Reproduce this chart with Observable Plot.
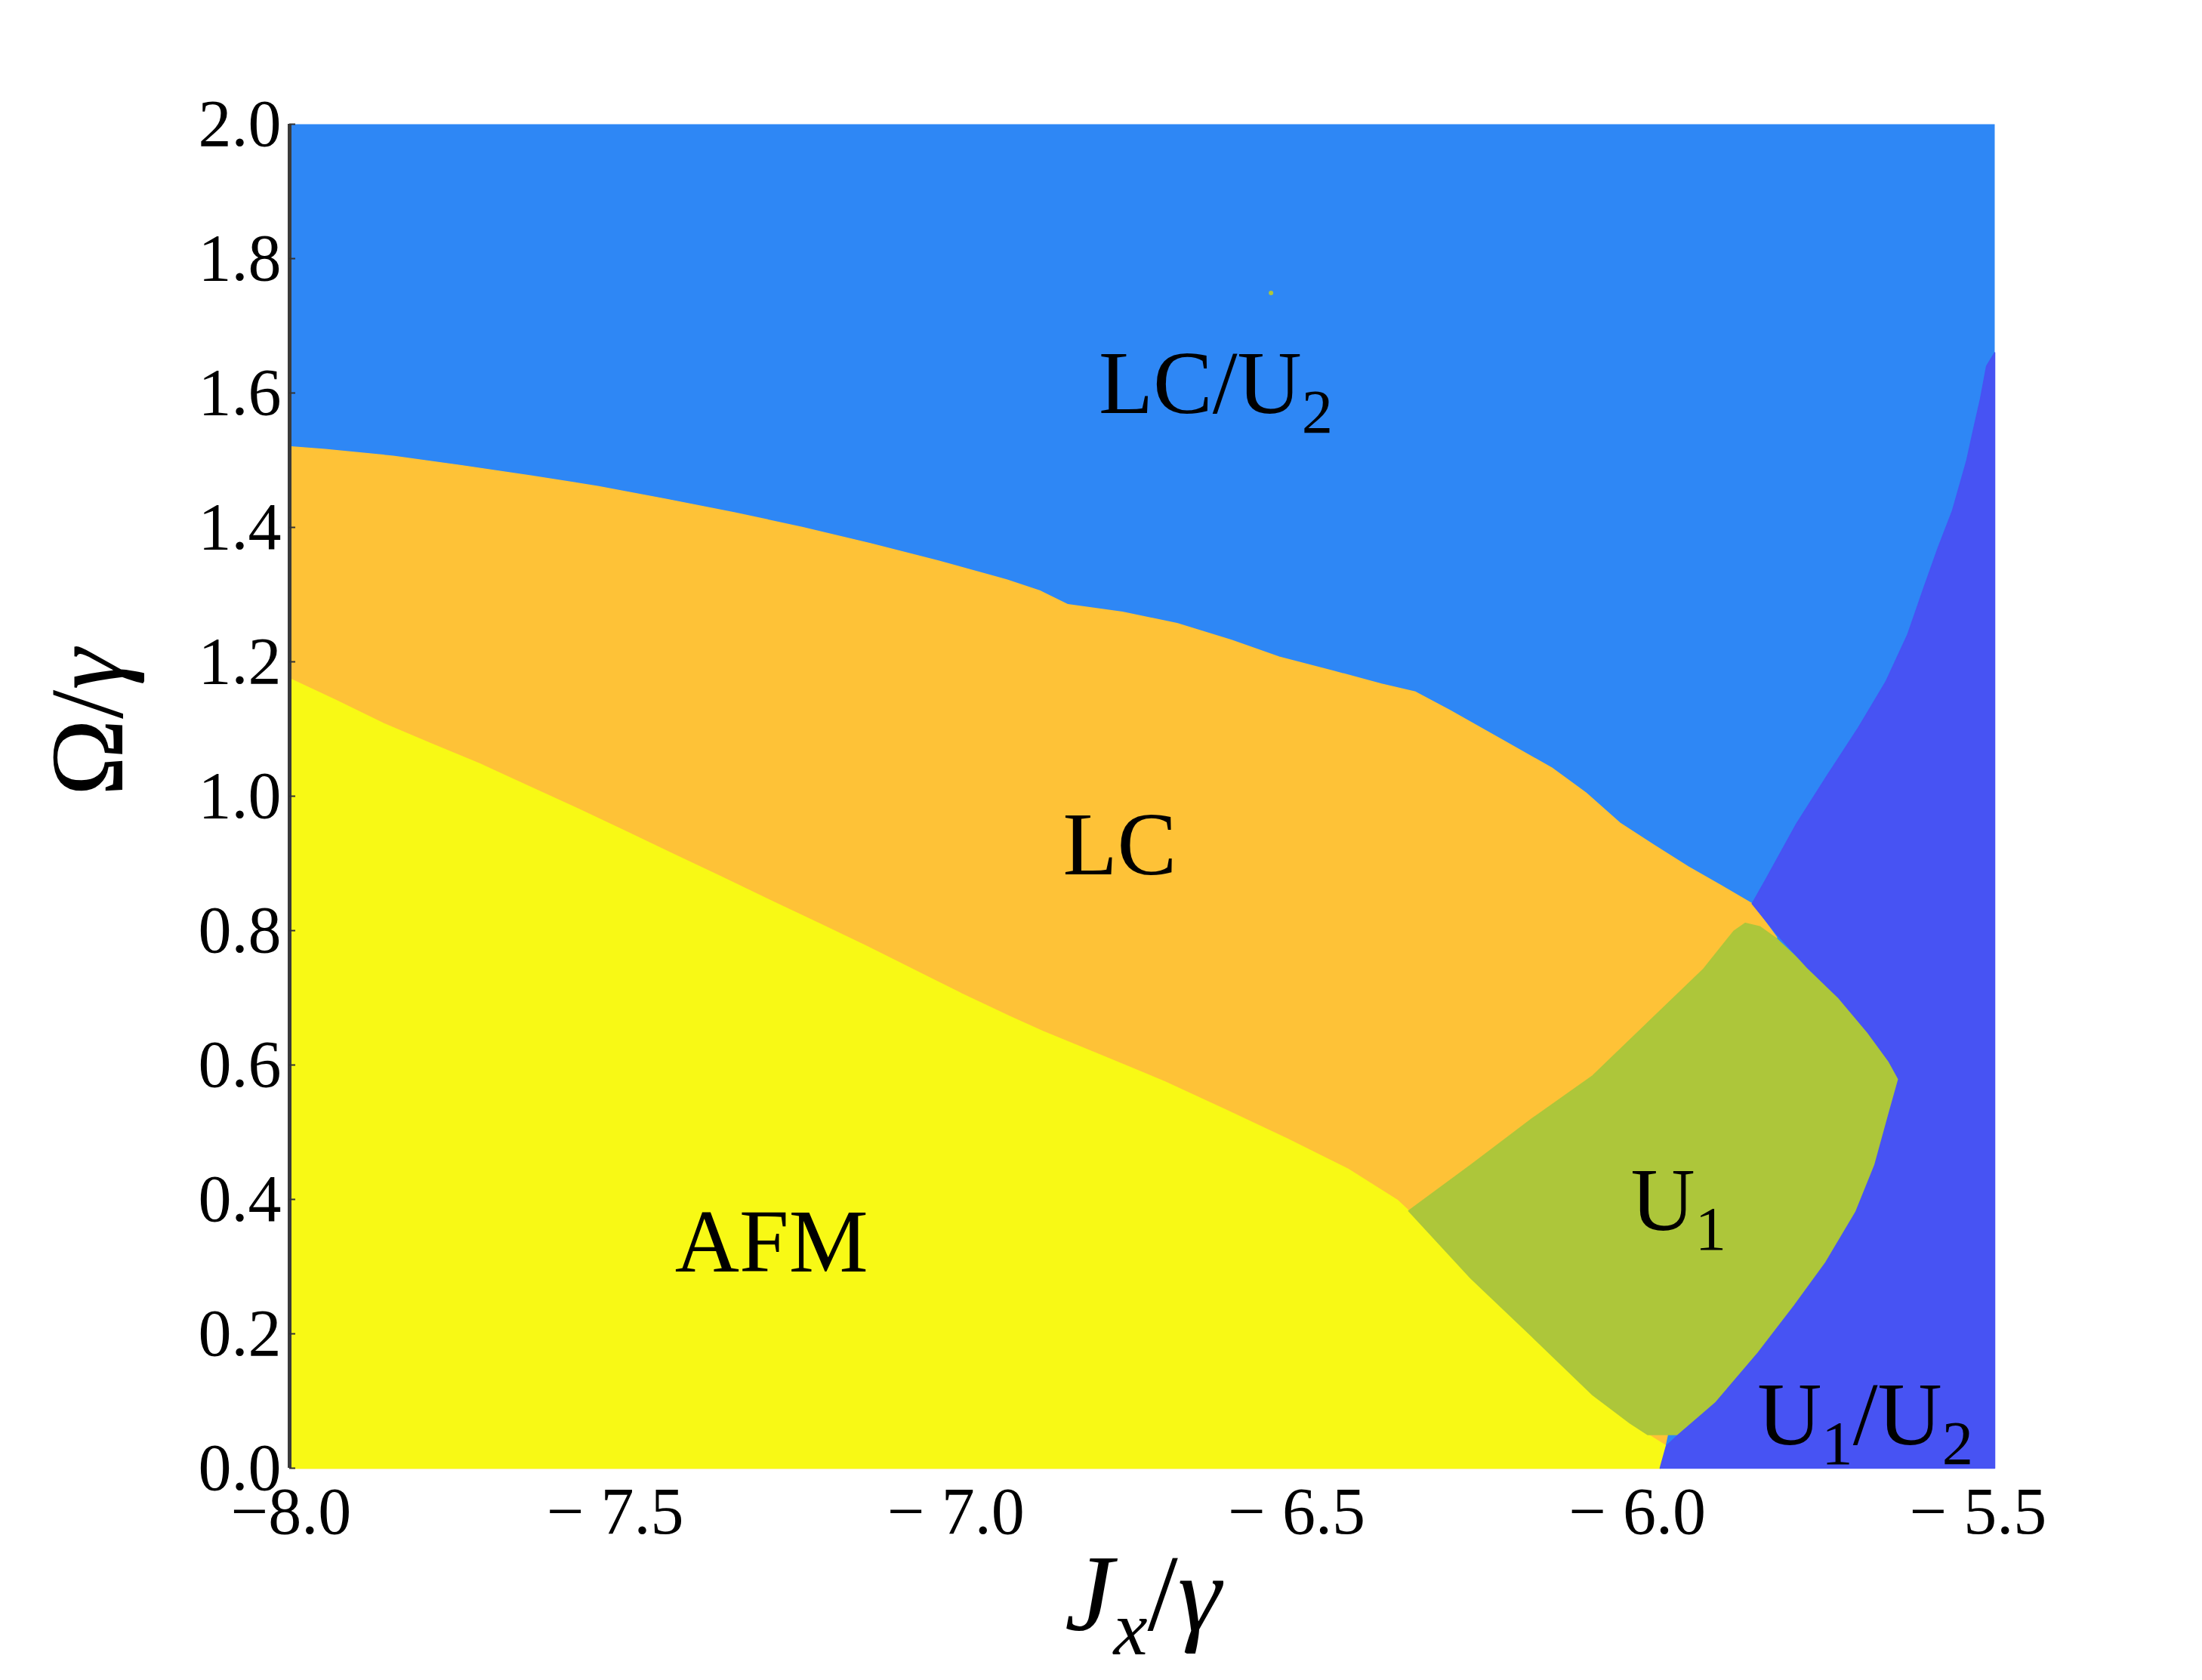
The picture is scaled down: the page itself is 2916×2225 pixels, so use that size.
<!DOCTYPE html>
<html>
<head>
<meta charset="utf-8">
<script src="https://cdn.jsdelivr.net/npm/d3@7"></script>
<script src="https://cdn.jsdelivr.net/npm/@observablehq/plot@0.6"></script>
<style>
  html, body { margin: 0; padding: 0; background: #ffffff; }
  #chart svg { display: block; }
</style>
</head>
<body>
<div id="chart"></div>
<script>
// ---- axes ----
const xDomain = [-8, -5.5];
const yDomain = [0, 2];
const xTicks = [-8, -7.5, -7, -6.5, -6, -5.5];
const xTickLabels = ["−8.0", "− 7.5", "− 7.0", "− 6.5", "− 6.0", "− 5.5"];
const yTicks = [0, 0.2, 0.4, 0.6, 0.8, 1.0, 1.2, 1.4, 1.6, 1.8, 2.0];
const xTitle = ["Jₓ/γ"];
const yTitle = ["Ω/γ"];

// ---- phase colours ----
const phaseNames = ["LC/U₂", "LC", "AFM", "U₁", "U₁/U₂"];
const phaseColors = ["#2e87f5", "#fec237", "#f8f915", "#adc63a", "#4753f3"];

// ---- label positions (Jx/γ, Ω/γ) ----
const labelX = [-6.643, -6.784, -7.295, -5.964, -5.690];
const labelY = [1.613, 0.926, 0.335, 0.397, 0.078];

// ---- boundaries: [Jx/γ, Ω/γ] ----
// LC (orange) upper boundary, left to right, ending at triple point
const lcUpper = [
  [-8.000, 1.520], [-7.950, 1.516], [-7.850, 1.506], [-7.750, 1.492], [-7.650, 1.477],
  [-7.550, 1.461], [-7.450, 1.442], [-7.350, 1.422], [-7.250, 1.400], [-7.150, 1.376],
  [-7.050, 1.350], [-6.950, 1.322], [-6.900, 1.305], [-6.860, 1.285], [-6.780, 1.274],
  [-6.700, 1.257], [-6.620, 1.232], [-6.550, 1.207], [-6.470, 1.186], [-6.400, 1.167],
  [-6.350, 1.155], [-6.300, 1.128], [-6.220, 1.082], [-6.150, 1.042], [-6.100, 1.005],
  [-6.050, 0.960], [-6.000, 0.927], [-5.950, 0.895], [-5.900, 0.866], [-5.856, 0.840]
];
const lcClose = [[-5.820, 0.790], [-5.991, 0.000], [-8.000, 0.000]];

// AFM (yellow) upper boundary, left to right, ending at U1 left vertex
const afmUpper = [
  [-8.000, 1.174], [-7.935, 1.143], [-7.864, 1.108], [-7.794, 1.078], [-7.723, 1.048],
  [-7.652, 1.015], [-7.581, 0.982], [-7.510, 0.948], [-7.440, 0.914], [-7.369, 0.880],
  [-7.299, 0.846], [-7.228, 0.812], [-7.158, 0.778], [-7.087, 0.742], [-7.016, 0.706],
  [-6.945, 0.672], [-6.897, 0.650], [-6.808, 0.613], [-6.718, 0.575], [-6.628, 0.533],
  [-6.538, 0.490], [-6.449, 0.445], [-6.377, 0.399], [-6.360, 0.383]
];
// U1 lower-left edge (shared with AFM), from left vertex down to bottom
const u1LowerLeft = [
  [-6.360, 0.383], [-6.269, 0.283], [-6.179, 0.196], [-6.090, 0.109], [-6.035, 0.067], [-6.009, 0.050]
];
const afmClose = [[-5.982, 0.033], [-5.991, 0.000], [-8.000, 0.000]];

// U1 (green) upper-left edge, from left vertex to top vertex
const u1UpperLeft = [
  [-6.360, 0.383], [-6.269, 0.451], [-6.179, 0.520], [-6.090, 0.584], [-6.000, 0.672],
  [-5.928, 0.742], [-5.883, 0.799], [-5.866, 0.811], [-5.845, 0.806]
];
// U1 right edge (shared with U1/U2), from top down to bottom
const u1Right = [
  [-5.820, 0.788], [-5.775, 0.745], [-5.730, 0.701], [-5.686, 0.648], [-5.655, 0.605],
  [-5.641, 0.579], [-5.654, 0.532], [-5.676, 0.451], [-5.704, 0.381], [-5.748, 0.306],
  [-5.794, 0.242], [-5.847, 0.172], [-5.910, 0.097], [-5.964, 0.050]
];

// U1/U2 (indigo) boundary with LC/U2, from right edge down to triple point
const u1u2Upper = [
  [-5.500, 1.660], [-5.512, 1.640], [-5.521, 1.591], [-5.530, 1.551], [-5.541, 1.500],
  [-5.562, 1.425], [-5.583, 1.370], [-5.604, 1.310], [-5.628, 1.240], [-5.660, 1.170],
  [-5.700, 1.102], [-5.745, 1.032], [-5.792, 0.957], [-5.836, 0.876], [-5.856, 0.840],
  [-5.820, 0.795]
];
const u1u2Close = [[-5.982, 0.033], [-5.991, 0.000], [-5.500, 0.000]];

// isolated speck in LC/U2 region
const speck = [[-6.562, 1.749]];

// ---- polygons built from the arrays ----
const lcPoly = [...lcUpper, ...lcClose];
const afmPoly = [...afmUpper, ...u1LowerLeft.slice(1), ...afmClose];
const u1Poly = [...u1UpperLeft, ...u1Right, ...u1LowerLeft.slice().reverse()];
const u1u2Poly = [...u1u2Upper, ...u1Right.slice(1), ...u1u2Close];

const FONT = "'Liberation Serif', 'DejaVu Serif', serif";
const tickFont = 88, labelFont = 118, titleFont = 145, yTitleFont = 138;

const poly = (pts, color) => Plot.line(pts, {
  x: d => d[0], y: d => d[1], fill: color, stroke: color, strokeWidth: 1.5, curve: "linear-closed"
});

const regionLabels = phaseNames.map((t, i) => ({t, x: labelX[i], y: labelY[i]}));
const tickLabel = d => xTickLabels[xTicks.indexOf(d)];

const chart = Plot.plot({
  width: 2916,
  height: 2225,
  marginLeft: 385,
  marginRight: 275,
  marginTop: 164,
  marginBottom: 281,
  style: {fontFamily: FONT, fontSize: tickFont + "px", background: "#ffffff", color: "#000000"},
  x: {domain: xDomain, label: null},
  y: {domain: yDomain, label: null},
  marks: [
    Plot.frame({fill: phaseColors[0], stroke: null}),
    poly(lcPoly, phaseColors[1]),
    poly(afmPoly, phaseColors[2]),
    poly(u1Poly, phaseColors[3]),
    poly(u1u2Poly, phaseColors[4]),
    Plot.dot(speck, {x: d => d[0], y: d => d[1], r: 3, fill: phaseColors[3], stroke: null}),
    Plot.ruleX([xDomain[0]], {stroke: "#3a3a3a", strokeWidth: 5, dx: -2}),
    Plot.tickY(yTicks, {y: d => d, stroke: "#333", strokeWidth: 2, insetRight: 2248, dx: -2}),
    Plot.axisX(xTicks.slice(0, 1), {tickSize: 0, tickPadding: 24, fontSize: tickFont,
      tickFormat: tickLabel, label: null}),
    Plot.axisX(xTicks.slice(1), {tickSize: 0, tickPadding: 24, fontSize: tickFont, dx: -22,
      tickFormat: tickLabel, label: null}),
    Plot.axisY(yTicks, {tickSize: 0, tickPadding: 13, fontSize: tickFont,
      tickFormat: d3.format(".1f"), label: null}),
    Plot.text(regionLabels, {x: "x", y: "y", text: "t", fontSize: labelFont,
      textAnchor: "middle", lineAnchor: "middle", fill: "#000"}),
    Plot.text(xTitle, {text: d => d, frameAnchor: "bottom", dy: 168, fontSize: titleFont,
      lineAnchor: "middle", fill: "#000"}),
    Plot.text(yTitle, {text: d => d, frameAnchor: "left", dx: -268, rotate: -90, fontSize: yTitleFont,
      lineAnchor: "middle", fill: "#000"})
  ]
});

// ---- typeset subscripts / italics as grouped tspans ----
const SVGNS = "http://www.w3.org/2000/svg";
const subMap = {"₁": "1", "₂": "2", "ₓ": "x"};
function richify(el, fs, italics) {
  const s = el.textContent;
  const runs = [];
  for (const ch of s) {
    const sub = ch in subMap;
    const base = sub ? subMap[ch] : ch;
    const ital = italics.includes(base) || italics.includes(ch);
    const last = runs[runs.length - 1];
    if (last && last.sub === sub && last.ital === ital) last.text += base;
    else runs.push({text: base, sub, ital});
  }
  el.textContent = "";
  const shift = fs * 0.22;
  let shifted = false;
  for (const r of runs) {
    const t = document.createElementNS(SVGNS, "tspan");
    t.textContent = r.text;
    if (r.sub) {
      t.setAttribute("font-size", (fs * 0.7).toFixed(1));
      if (!shifted) { t.setAttribute("dy", shift.toFixed(1)); shifted = true; }
    } else if (shifted) {
      t.setAttribute("dy", (-shift).toFixed(1)); shifted = false;
    }
    if (r.ital) t.setAttribute("font-style", "italic");
    el.appendChild(t);
  }
}
chart.querySelectorAll("text").forEach(el => {
  const s = el.textContent;
  if (phaseNames.includes(s)) richify(el, labelFont, []);
  else if (xTitle.includes(s)) richify(el, titleFont, ["J", "x", "γ"]);
  else if (yTitle.includes(s)) richify(el, yTitleFont, ["γ"]);
});

document.getElementById("chart").appendChild(chart);
</script>
</body>
</html>
